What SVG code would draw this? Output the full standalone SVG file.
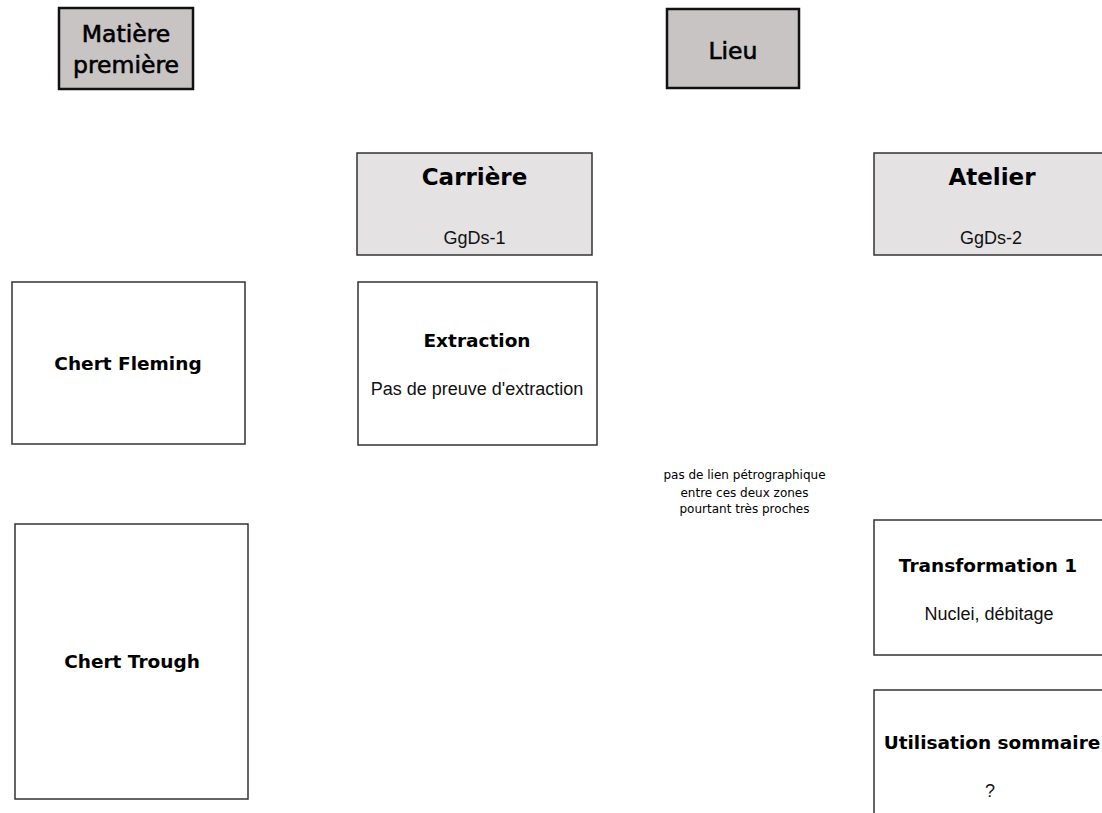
<svg xmlns="http://www.w3.org/2000/svg" width="1102" height="813" viewBox="0 0 1102 813">
<style>
.hdr{fill:#c8c4c4;stroke:#111;stroke-width:2.5}
.loc{fill:#e4e2e2;stroke:#333;stroke-width:1.5}
.box{fill:#fff;stroke:#333;stroke-width:1.5}
.big{font-family:"DejaVu Sans",Verdana,sans-serif;font-size:23.5px;fill:#000;stroke:#000;stroke-width:0.6;text-anchor:middle}
.ttl{font-family:"DejaVu Sans","Verdana",sans-serif;font-weight:bold;font-size:23px;fill:#000;text-anchor:middle}
.bt{font-family:"DejaVu Sans","Verdana",sans-serif;font-weight:bold;font-size:18.5px;fill:#000;text-anchor:middle}
.rt{font-family:"Liberation Sans",Arial,sans-serif;font-size:18px;fill:#111;text-anchor:middle}
.sm{font-family:"DejaVu Sans",Verdana,sans-serif;font-size:12px;fill:#000;text-anchor:middle}
</style>
<rect width="1102" height="813" fill="#fff"/>
<g id="connectors"></g>
<g id="matiere">
<rect class="hdr" x="59" y="8" width="134" height="81"/>
<text class="big" x="126" y="42">Matière</text>
<text class="big" x="126" y="73">première</text>
</g>
<g id="lieu">
<rect class="hdr" x="667" y="9" width="132" height="79"/>
<text class="big" x="733" y="59">Lieu</text>
</g>
<g id="carriere">
<rect class="loc" x="357" y="153" width="235" height="102"/>
<text class="ttl" x="474.5" y="185">Carrière</text>
<text class="rt" x="474.5" y="244">GgDs-1</text>
</g>
<g id="atelier">
<rect class="loc" x="874" y="153" width="236" height="102"/>
<text class="ttl" x="992" y="185">Atelier</text>
<text class="rt" x="991" y="244">GgDs-2</text>
</g>
<g id="chert-fleming">
<rect class="box" x="12" y="282" width="233" height="162"/>
<text class="bt" x="128" y="370">Chert Fleming</text>
</g>
<g id="extraction">
<rect class="box" x="358" y="282" width="239" height="163"/>
<text class="bt" x="477" y="347">Extraction</text>
<text class="rt" x="477" y="395">Pas de preuve d'extraction</text>
</g>
<g id="note">
<text class="sm" x="744.5" y="479">pas de lien pétrographique</text>
<text class="sm" x="744.5" y="497">entre ces deux zones</text>
<text class="sm" x="744.5" y="513">pourtant très proches</text>
</g>
<g id="chert-trough">
<rect class="box" x="15" y="524" width="233" height="275"/>
<text class="bt" x="132" y="668">Chert Trough</text>
</g>
<g id="transformation1">
<rect class="box" x="874" y="520" width="236" height="135"/>
<text class="bt" x="988" y="572">Transformation 1</text>
<text class="rt" x="989" y="620">Nuclei, débitage</text>
</g>
<g id="utilisation">
<rect class="box" x="874" y="690" width="236" height="140"/>
<text class="bt" x="992" y="749">Utilisation sommaire</text>
<text class="rt" x="990" y="797">?</text>
</g>
</svg>
